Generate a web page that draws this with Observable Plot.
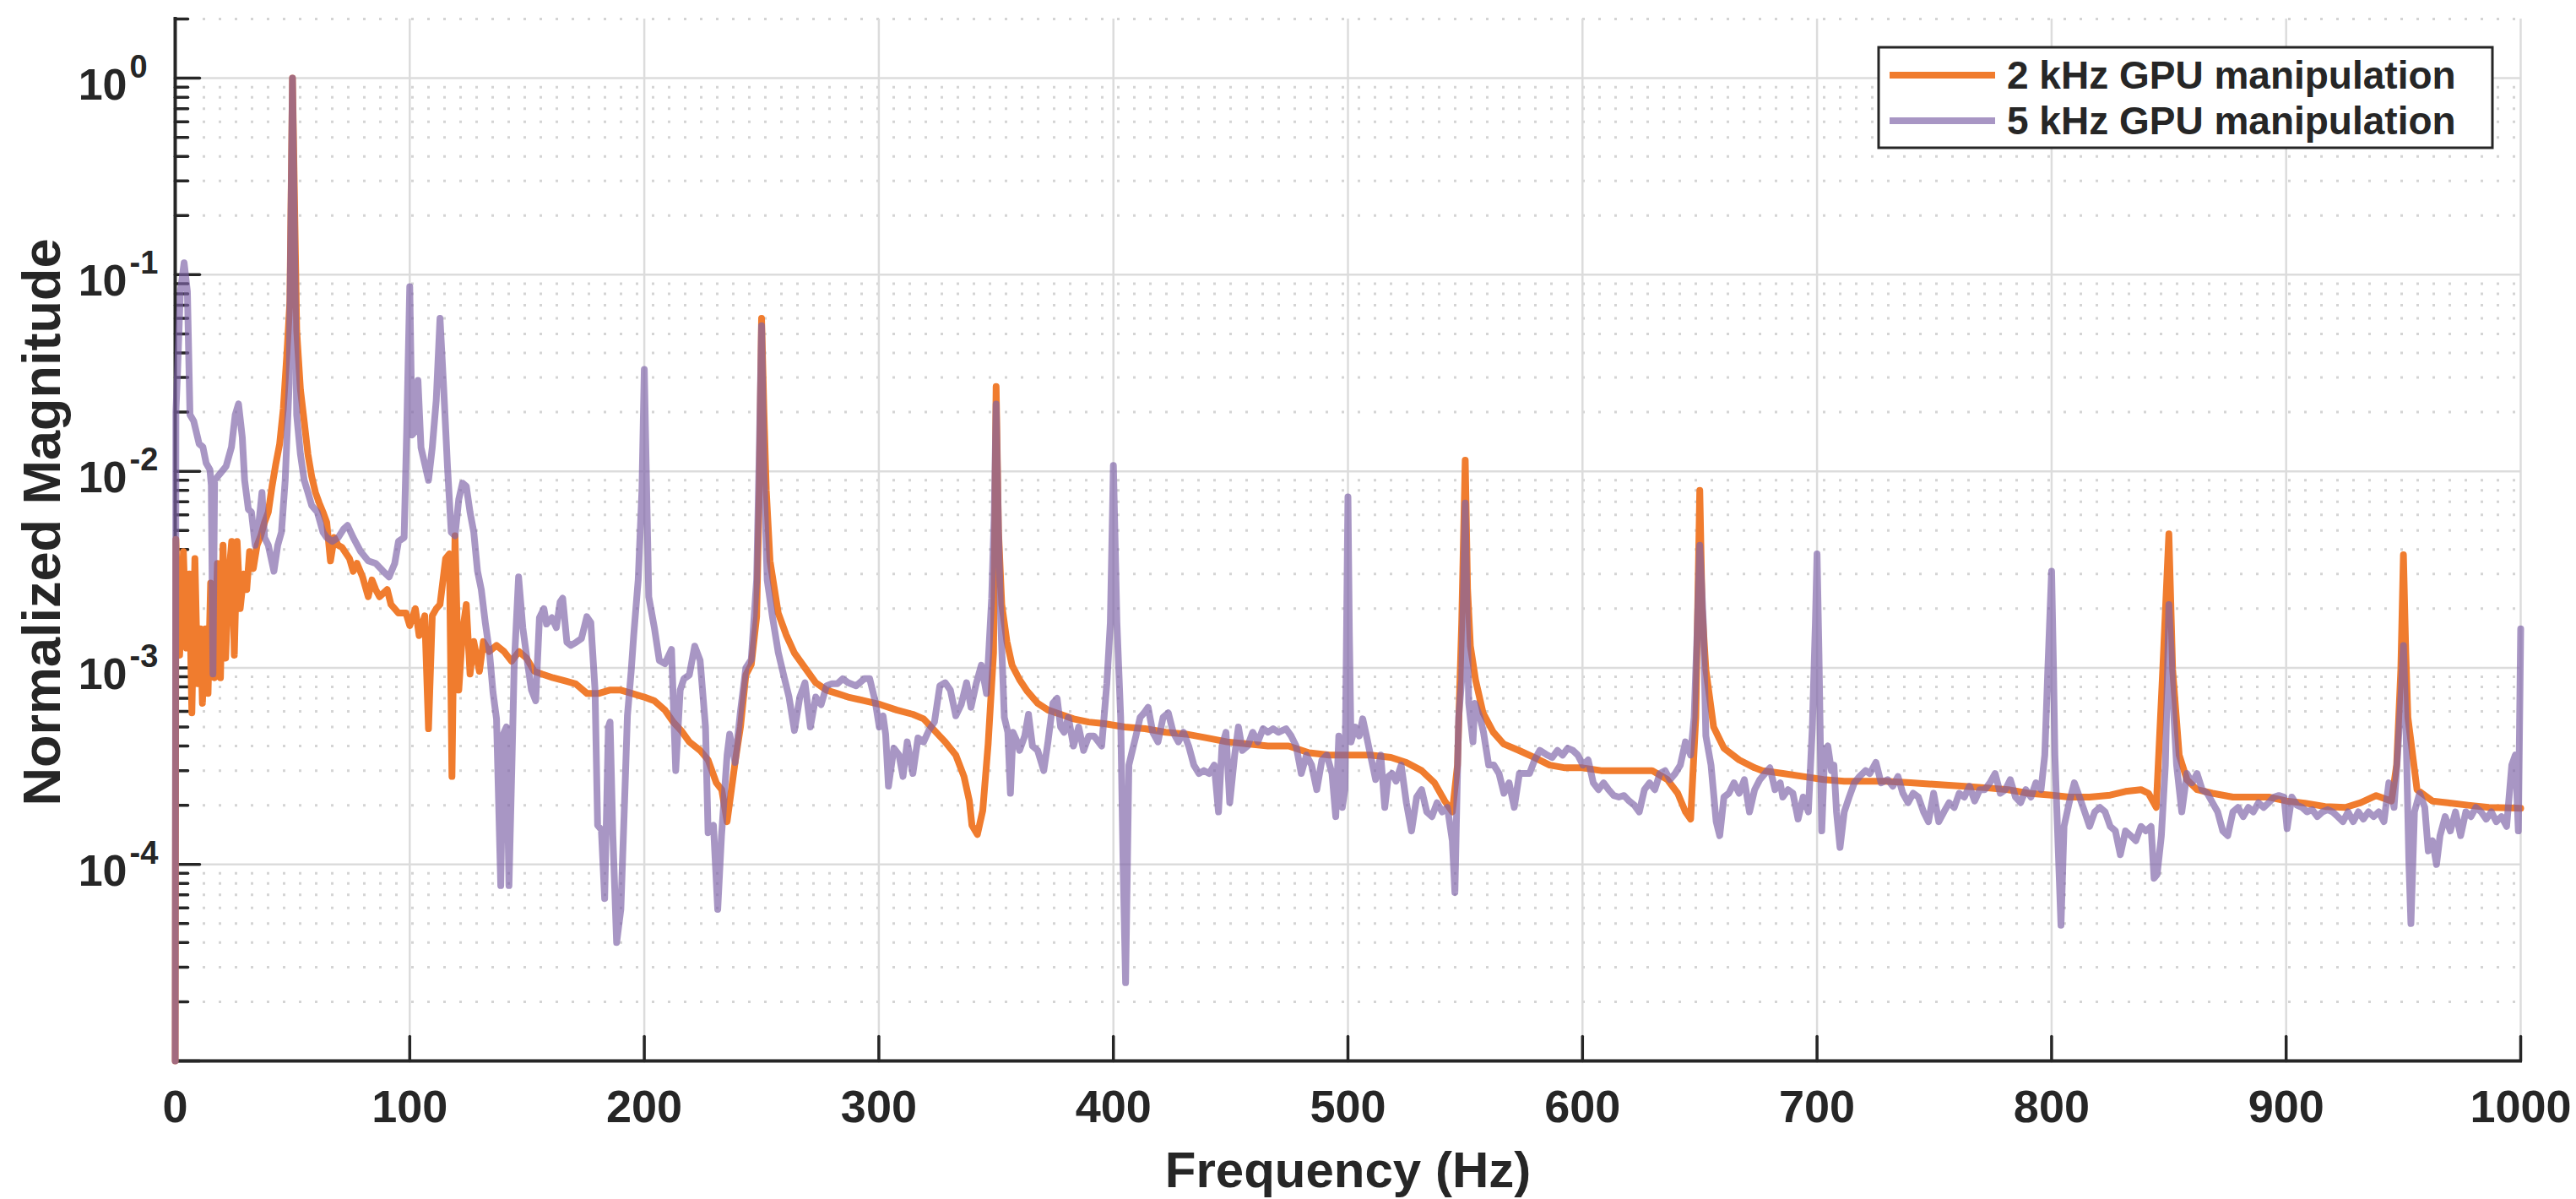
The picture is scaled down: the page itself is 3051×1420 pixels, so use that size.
<!DOCTYPE html>
<html>
<head>
<meta charset="utf-8">
<script src="https://cdn.jsdelivr.net/npm/d3@7"></script>
<script src="https://cdn.jsdelivr.net/npm/@observablehq/plot@0.6"></script>
<style>
html, body { margin: 0; padding: 0; background: #ffffff; }
#chart { width: 3051px; height: 1420px; }
</style>
</head>
<body>
<div id="chart"></div>
<script>
// ---------------- data ----------------
const seriesNames = ["2 kHz GPU manipulation", "5 kHz GPU manipulation"];

const freq2k = [
0,0.3,1.9,3.5,4.8,6.0,7.1,8.4,9.6,10.8,
11.6,12.9,14.0,15.1,16.7,18.0,19.3,20.4,21.5,22.8,
24.1,25.2,26.4,27.7,29.3,30.5,31.7,33.3,34.9,36.5,
38.1,39.7,41.3,42.9,44.5,46.1,47.7,48.9,50.0,51.8,
53.4,55.0,56.6,58.2,59.8,61.4,63.0,64.6,66.2,67.8,
69.5,71.1,74.3,75.9,77.5,79.9,82.3,83.9,85.5,87.1,
90.4,92.0,95.2,98.4,100.0,102.4,104.0,106.4,108.0,109.6,
111.3,112.9,115.3,116.9,118.0,119.3,120.9,122.5,124.1,125.7,
127.3,129.7,131.4,133.8,137.0,140.2,143.4,146.6,149.8,153.1,
156.3,161.1,165.9,170.7,175.6,180.4,185.2,190.0,194.9,200.0,
204.3,208.8,212.3,215.7,219.2,223.8,227.2,230.7,233.0,235.3,
238.7,241.0,243.3,245.6,247.9,249.0,250.0,251.0,252.0,253.6,
257.1,260.5,264.0,268.5,273.1,277.7,282.3,286.9,293.8,300.7,
307.6,314.5,319.1,323.7,328.3,332.8,336.3,338.6,339.7,342.0,
344.3,346.6,348.9,350.0,351.0,352.4,354.6,356.8,360.0,363.3,
367.7,372.1,377.5,383.0,389.5,396.1,404.8,413.5,422.3,431.0,
439.7,448.5,457.2,465.9,474.7,483.4,492.1,500.9,509.6,518.3,
524.9,531.4,536.9,541.3,544.5,546.7,548.5,550.0,551.0,552.2,
554.4,557.6,562.0,566.4,572.9,579.5,586.0,592.6,600.0,607.9,
614.4,621.0,629.7,636.2,640.6,643.9,646.1,648.3,650.0,651.0,
652.6,655.9,660.3,666.8,673.4,676.7,685.4,694.1,702.8,711.6,
720.3,729.0,739.9,750.8,761.7,772.6,781.4,790.1,800.1,807.5,
816.2,825.0,831.5,838.1,841.3,844.6,847.4,850.0,851.6,854.4,
857.7,862.0,868.6,877.3,883.9,892.6,900.2,907.9,916.6,925.3,
931.8,938.4,944.9,947.1,948.9,950.0,951.0,951.9,955.8,962.4,
968.9,977.6,986.4,995.1,1000.0
];
const mag2k = [
1e-5,4.5e-3,1.16e-3,3.9e-3,1.26e-3,3.0e-3,5.9e-4,3.6e-3,8.3e-4,1.58e-3,
6.6e-4,1.58e-3,7.4e-4,2.7e-3,8.9e-4,3.4e-3,8.9e-4,4.2e-3,1.12e-3,2.9e-3,
4.4e-3,1.16e-3,4.4e-3,2.0e-3,3.0e-3,2.5e-3,3.9e-3,3.2e-3,4.2e-3,4.7e-3,
5.5e-3,6.2e-3,8.4e-3,0.0109,0.0137,0.0208,0.041,0.073,1.0,0.052,
0.026,0.0179,0.0122,9.4e-3,7.8e-3,6.9e-3,6.2e-3,5.5e-3,3.5e-3,4.6e-3,
4.2e-3,4.1e-3,3.6e-3,3.1e-3,3.4e-3,2.9e-3,2.3e-3,2.8e-3,2.5e-3,2.3e-3,
2.5e-3,2.1e-3,1.9e-3,1.9e-3,1.64e-3,2.0e-3,1.46e-3,1.84e-3,4.9e-4,1.84e-3,
2.0e-3,2.1e-3,3.6e-3,3.8e-3,2.8e-4,4.7e-3,7.7e-4,1.52e-3,2.1e-3,9.3e-4,
1.36e-3,9.6e-4,1.36e-3,1.21e-3,1.30e-3,1.21e-3,1.08e-3,1.21e-3,1.12e-3,9.6e-4,
9.3e-4,8.9e-4,8.6e-4,8.3e-4,7.4e-4,7.4e-4,7.7e-4,7.7e-4,7.4e-4,7.1e-4,
6.8e-4,6.1e-4,5.3e-4,4.8e-4,4.2e-4,3.8e-4,3.4e-4,2.6e-4,2.4e-4,1.65e-4,
3.3e-4,5.0e-4,9.2e-4,1.04e-3,1.82e-3,8e-3,0.06,0.02,8e-3,3.5e-3,
1.9e-3,1.47e-3,1.19e-3,1.0e-3,8.4e-4,7.7e-4,7.4e-4,7.1e-4,6.8e-4,6.5e-4,
6.1e-4,5.8e-4,5.5e-4,4.8e-4,4.2e-4,3.6e-4,2.8e-4,2.1e-4,1.58e-4,1.42e-4,
1.88e-4,4.1e-4,1.19e-3,0.027,5e-3,2.1e-3,1.36e-3,1.03e-3,8.7e-4,7.6e-4,
6.6e-4,6.1e-4,5.8e-4,5.5e-4,5.3e-4,5.2e-4,5.0e-4,4.9e-4,4.7e-4,4.6e-4,
4.4e-4,4.2e-4,4.1e-4,4.0e-4,4.0e-4,3.7e-4,3.6e-4,3.6e-4,3.6e-4,3.5e-4,
3.3e-4,3.0e-4,2.6e-4,2.1e-4,1.85e-4,3.2e-4,1.7e-3,0.0114,2.5e-3,1.29e-3,
8.7e-4,5.9e-4,4.7e-4,4.1e-4,3.8e-4,3.5e-4,3.2e-4,3.1e-4,3.1e-4,3.0e-4,
3.0e-4,3.0e-4,3.0e-4,2.7e-4,2.3e-4,1.85e-4,1.7e-4,5.6e-4,8.0e-3,2.0e-3,
9.8e-4,5.0e-4,3.9e-4,3.4e-4,3.1e-4,3.0e-4,2.9e-4,2.8e-4,2.7e-4,2.65e-4,
2.65e-4,2.65e-4,2.6e-4,2.55e-4,2.5e-4,2.45e-4,2.4e-4,2.3e-4,2.25e-4,2.2e-4,
2.2e-4,2.25e-4,2.35e-4,2.4e-4,2.3e-4,1.95e-4,9.8e-4,4.8e-3,9.8e-4,3.6e-4,
2.7e-4,2.4e-4,2.3e-4,2.2e-4,2.2e-4,2.2e-4,2.1e-4,2.05e-4,1.97e-4,1.95e-4,
2.06e-4,2.24e-4,2.1e-4,3.2e-4,9.8e-4,3.76e-3,1.2e-3,5.6e-4,2.4e-4,2.1e-4,
2.06e-4,2.0e-4,1.95e-4,1.94e-4,1.93e-4
];

const freq5k = [
0,0.3,1.0,2.2,3.8,5.2,6.3,7.9,10.2,11.8,
13.2,14.8,15.4,16.1,16.8,19.4,21.7,24.0,25.6,27.0,
28.6,29.6,31.2,32.5,34.1,35.7,37.0,38.1,39.7,42.1,
43.7,45.3,46.9,48.6,50.0,51.8,53.4,55.0,56.6,58.2,
60.6,63.0,64.6,67.0,69.5,71.9,73.5,75.9,79.1,82.3,
85.5,88.7,91.2,93.6,95.2,97.6,98.7,100.0,101.0,102.4,
103.5,104.8,106.4,108.0,109.6,111.3,112.9,114.5,116.1,117.7,
119.3,120.9,122.5,124.1,125.7,127.3,128.9,130.5,132.2,134.0,
135.5,137.0,138.8,139.9,141.2,142.3,143.6,144.5,146.4,148.2,
150.3,151.9,153.7,155.3,157.2,158.3,160.6,162.5,164.1,165.2,
167.0,168.7,171.0,173.2,175.5,177.2,179.0,180.1,181.7,183.1,
184.7,185.4,186.6,188.2,190.0,191.6,192.8,194.4,195.5,197.4,
199.0,200.0,201.0,201.9,204.3,206.4,208.8,211.6,213.4,215.3,
216.9,219.2,221.5,223.8,226.1,227.2,229.5,231.3,232.9,235.3,
236.4,238.7,241.0,243.3,245.6,247.9,249.0,250.0,251.0,252.4,
254.7,257.1,259.4,261.7,264.0,266.3,268.5,270.8,273.1,275.4,
277.7,280.0,282.3,284.6,286.9,290.3,293.8,296.1,298.4,300.2,
301.8,302.9,304.1,306.4,308.6,310.3,312.1,314.5,316.7,319.1,
321.3,323.7,326.0,328.3,330.5,332.8,335.1,337.4,339.3,341.5,
343.7,345.9,348.1,349.2,350.0,351.0,352.0,353.5,355.0,356.1,
357.2,359.0,360.0,362.2,363.8,365.5,367.7,370.3,372.1,374.2,
376.0,377.5,379.0,380.8,383.0,385.2,387.3,389.5,391.7,395.0,
397.2,398.7,400.0,401.5,403.1,404.1,405.2,406.6,408.1,409.6,
411.4,413.1,414.8,416.8,419.0,421.2,423.4,425.5,427.7,429.9,
432.1,434.3,436.5,438.6,440.8,443.0,444.8,446.3,448.0,449.6,
451.7,453.3,455.0,457.2,459.4,461.6,463.8,465.9,468.1,470.3,
473.6,475.8,477.9,480.1,482.3,484.5,486.7,488.9,491.0,493.2,
494.8,496.1,497.6,498.7,499.4,500.0,500.6,501.3,503.1,504.8,
506.3,507.9,509.6,511.8,514.0,515.7,517.2,518.8,520.5,522.7,
524.9,527.1,529.3,531.4,533.6,535.8,538.0,540.2,542.4,544.5,
545.6,547.2,548.5,549.3,550.0,550.8,551.5,553.3,554.1,556.3,
557.8,560.0,562.2,564.4,566.5,568.7,570.9,573.1,575.2,577.4,
579.6,581.8,584.9,587.1,589.3,591.5,593.7,595.9,598.0,600.2,
602.4,604.6,606.8,609.0,611.1,613.3,615.5,617.7,619.9,622.1,
624.2,626.4,628.6,630.8,633.0,635.2,637.3,639.5,641.7,643.9,
646.1,647.6,648.9,650.0,651.5,652.6,654.8,657.0,658.5,660.3,
662.4,664.6,666.8,669.0,671.2,673.4,675.6,677.8,679.9,682.1,
684.3,685.4,687.6,689.7,691.9,694.1,696.3,698.0,699.3,700.0,
700.8,702.0,703.3,704.6,706.1,707.2,708.3,709.8,711.6,713.7,
715.9,718.1,720.7,722.5,725.1,727.3,730.1,732.3,734.5,736.6,
738.8,741.0,743.2,745.4,747.5,749.7,751.9,754.1,756.3,758.5,
760.6,762.8,765.0,767.2,769.4,771.5,773.7,775.9,778.1,780.3,
782.4,784.6,786.8,789.0,791.2,793.3,795.5,797.1,798.4,800.0,
800.8,801.4,802.7,804.0,805.3,807.5,809.7,811.9,814.1,816.2,
818.4,820.6,822.8,825.0,827.2,829.3,831.5,833.7,835.9,838.1,
840.2,842.4,843.7,845.0,846.8,848.5,849.3,850.0,851.0,851.6,
853.3,855.5,857.7,859.9,862.0,864.2,866.4,868.6,870.8,873.0,
875.1,877.3,879.5,881.7,883.9,886.0,888.2,890.4,892.6,894.8,
896.9,899.1,900.4,902.4,904.6,906.8,908.9,911.1,913.3,915.5,
917.7,919.8,922.0,924.2,926.4,928.6,930.8,932.9,935.1,937.3,
939.5,941.7,943.8,946.0,947.5,949.2,950.0,951.0,952.3,953.2,
954.7,956.9,959.1,960.6,962.4,964.1,965.6,967.8,970.0,972.2,
974.4,976.6,978.8,980.9,983.1,985.3,987.5,989.6,991.8,994.0,
996.2,997.7,999.0,1000.0
];
const mag5k = [
1e-5,0.02,0.032,0.082,0.115,0.082,0.0194,0.018,0.0138,0.0133,
0.011,0.0102,0.0085,9.3e-4,9.0e-3,9.8e-3,0.0106,0.0133,0.0194,0.022,
0.0149,9.0e-3,6.4e-3,6.2e-3,4.2e-3,5.5e-3,7.8e-3,4.6e-3,4.2e-3,3.1e-3,
4.2e-3,4.9e-3,9.0e-3,0.028,1.0,0.0193,0.0122,9.0e-3,7.8e-3,6.7e-3,
6.2e-3,4.9e-3,4.6e-3,4.4e-3,4.6e-3,5.1e-3,5.3e-3,4.6e-3,3.9e-3,3.5e-3,
3.4e-3,3.1e-3,2.9e-3,3.4e-3,4.4e-3,4.6e-3,0.016,0.087,0.0153,0.016,
0.029,0.0132,0.0109,9.0e-3,0.0132,0.023,0.060,0.026,0.0105,4.9e-3,
4.7e-3,7.2e-3,8.7e-3,8.4e-3,6.2e-3,4.9e-3,3.1e-3,2.5e-3,1.7e-3,1.2e-3,
7.5e-4,5.5e-4,7.8e-5,4.6e-4,5.0e-4,7.8e-5,3.4e-4,1.0e-3,2.9e-3,1.6e-3,
1.04e-3,7.7e-4,6.8e-4,1.8e-3,2.0e-3,1.67e-3,1.8e-3,1.6e-3,2.16e-3,2.26e-3,
1.35e-3,1.3e-3,1.35e-3,1.41e-3,1.82e-3,1.7e-3,7.7e-4,1.58e-4,1.5e-4,6.7e-5,
5.0e-4,5.3e-4,1.4e-4,4.0e-5,5.9e-5,2.1e-4,5.7e-4,9.6e-4,1.47e-3,2.8e-3,
8.0e-3,0.033,8.0e-3,2.3e-3,1.6e-3,1.09e-3,1.05e-3,1.24e-3,3.0e-4,7.7e-4,
8.8e-4,9.2e-4,1.29e-3,1.09e-3,5.0e-4,1.45e-4,1.58e-4,5.9e-5,1.39e-4,3.6e-4,
4.6e-4,3.3e-4,6.0e-4,1.0e-3,1.1e-3,2.8e-3,0.012,0.055,0.01,2.8e-3,
1.8e-3,1.2e-3,9.2e-4,7.1e-4,4.8e-4,7.1e-4,8.4e-4,5.0e-4,7.1e-4,6.5e-4,
8.1e-4,8.3e-4,8.3e-4,8.8e-4,8.4e-4,8.1e-4,8.8e-4,8.8e-4,6.8e-4,5.0e-4,
5.7e-4,4.6e-4,2.5e-4,3.9e-4,3.6e-4,2.8e-4,4.2e-4,2.9e-4,4.4e-4,4.2e-4,
4.8e-4,5.3e-4,8.1e-4,8.4e-4,7.7e-4,5.7e-4,6.5e-4,8.4e-4,6.3e-4,8.3e-4,
1.03e-3,7.4e-4,2.25e-3,6.0e-3,0.022,5.0e-3,1.7e-3,5.6e-4,4.7e-4,2.3e-4,
4.7e-4,4.2e-4,3.8e-4,4.5e-4,5.8e-4,4.0e-4,3.8e-4,3.0e-4,4.2e-4,6.6e-4,
7.0e-4,5.0e-4,4.7e-4,5.6e-4,4.0e-4,5.0e-4,3.8e-4,4.5e-4,4.5e-4,4.0e-4,
8.3e-4,1.7e-3,0.0107,1.7e-3,5.6e-4,1.06e-4,2.5e-5,3.2e-4,3.8e-4,4.5e-4,
5.6e-4,5.9e-4,6.3e-4,4.7e-4,4.2e-4,5.6e-4,5.9e-4,4.7e-4,4.2e-4,4.7e-4,
4.0e-4,3.2e-4,2.9e-4,3.0e-4,2.9e-4,3.2e-4,1.85e-4,4.0e-4,4.7e-4,2.06e-4,
3.6e-4,5.0e-4,3.8e-4,4.0e-4,4.7e-4,4.2e-4,4.9e-4,4.7e-4,4.9e-4,4.7e-4,
4.9e-4,4.5e-4,4.0e-4,2.9e-4,3.6e-4,3.2e-4,2.4e-4,3.4e-4,3.6e-4,2.9e-4,
1.75e-4,4.5e-4,1.95e-4,2.4e-4,1.5e-3,7.4e-3,1.5e-3,4.2e-4,5.0e-4,4.5e-4,
5.5e-4,4.5e-4,3.6e-4,2.7e-4,3.6e-4,1.95e-4,2.8e-4,2.9e-4,2.65e-4,3.2e-4,
2.06e-4,1.48e-4,2.2e-4,2.4e-4,1.85e-4,1.75e-4,2.06e-4,1.85e-4,1.95e-4,1.32e-4,
7.2e-5,5.6e-4,8.7e-4,2.5e-3,6.9e-3,1.8e-3,6.6e-4,4.2e-4,6.6e-4,5.6e-4,
4.7e-4,3.2e-4,3.2e-4,2.9e-4,2.3e-4,2.6e-4,1.95e-4,2.9e-4,2.9e-4,2.9e-4,
3.4e-4,3.8e-4,3.6e-4,3.5e-4,3.8e-4,3.6e-4,3.9e-4,3.8e-4,3.6e-4,3.2e-4,
3.4e-4,2.6e-4,2.4e-4,2.6e-4,2.4e-4,2.24e-4,2.2e-4,2.24e-4,2.1e-4,2.0e-4,
1.85e-4,2.4e-4,2.6e-4,2.4e-4,2.9e-4,3.0e-4,2.7e-4,2.9e-4,3.2e-4,4.2e-4,
3.6e-4,5.6e-4,1.53e-3,4.2e-3,1.7e-3,4.5e-4,3.2e-4,1.65e-4,1.4e-4,2.2e-4,
2.3e-4,2.6e-4,2.3e-4,2.7e-4,1.85e-4,2.4e-4,2.7e-4,2.9e-4,3.1e-4,2.4e-4,
2.6e-4,2.2e-4,2.4e-4,2.3e-4,1.7e-4,2.2e-4,1.85e-4,5.0e-4,1.7e-3,3.8e-3,
1.2e-3,1.48e-4,3.8e-4,4.0e-4,3.0e-4,3.2e-4,1.85e-4,1.22e-4,1.85e-4,2.2e-4,
2.6e-4,2.8e-4,3.0e-4,2.9e-4,3.3e-4,2.6e-4,2.7e-4,2.5e-4,2.8e-4,2.3e-4,
2.06e-4,2.3e-4,2.2e-4,1.85e-4,1.65e-4,2.3e-4,1.65e-4,1.85e-4,2.06e-4,1.95e-4,
2.3e-4,2.2e-4,2.5e-4,2.1e-4,2.4e-4,2.4e-4,2.6e-4,2.9e-4,2.3e-4,2.4e-4,
2.7e-4,2.2e-4,2.06e-4,2.4e-4,2.2e-4,2.6e-4,2.4e-4,3.6e-4,9.8e-4,3.1e-3,
1.0e-3,3.6e-4,1.32e-4,4.9e-5,1.56e-4,2.06e-4,2.6e-4,2.2e-4,1.85e-4,1.56e-4,
1.85e-4,1.95e-4,1.85e-4,1.56e-4,1.48e-4,1.12e-4,1.48e-4,1.4e-4,1.32e-4,1.56e-4,
1.48e-4,1.56e-4,8.5e-5,8.9e-5,1.4e-4,3.2e-4,8.0e-4,2.1e-3,1.2e-3,7.4e-4,
3.2e-4,1.85e-4,2.9e-4,2.6e-4,2.9e-4,2.4e-4,2.3e-4,2.06e-4,1.85e-4,1.48e-4,
1.4e-4,1.85e-4,1.95e-4,1.75e-4,1.95e-4,1.85e-4,2.06e-4,1.95e-4,2.06e-4,2.2e-4,
2.24e-4,2.2e-4,1.52e-4,2.2e-4,2.0e-4,1.95e-4,1.85e-4,1.9e-4,1.75e-4,1.85e-4,
1.9e-4,1.85e-4,1.75e-4,1.65e-4,1.85e-4,1.65e-4,1.85e-4,1.7e-4,1.85e-4,1.75e-4,
1.85e-4,1.65e-4,2.6e-4,1.95e-4,3.6e-4,8.0e-4,1.3e-3,5.6e-4,1.06e-4,5.0e-5,
1.85e-4,2.3e-4,1.95e-4,1.17e-4,1.32e-4,1.0e-4,1.4e-4,1.75e-4,1.48e-4,1.85e-4,
1.4e-4,1.85e-4,1.75e-4,1.95e-4,1.85e-4,1.7e-4,1.85e-4,1.65e-4,1.75e-4,1.56e-4,
3.2e-4,3.6e-4,1.48e-4,1.58e-3
];

// axis ticks
const xTicks = [0, 100, 200, 300, 400, 500, 600, 700, 800, 900, 1000];
const yDecades = [1e-4, 1e-3, 1e-2, 1e-1, 1];
const yExponents = ["-4", "-3", "-2", "-1", "0"];
const yDomain = [1e-5, 2];

// ---------------- build ----------------
const ink = "#262626";
const orange = "#F07C2E";
const purple = "#7E62A7";
const purpleOpacity = 0.67;

const data2k = freq2k.map((f, i) => ({f, m: mag2k[i]}));
const data5k = freq5k.map((f, i) => ({f, m: mag5k[i]}));

const minorY = [];
for (let e = -5; e <= 0; e++) {
  for (let k = 2; k <= 9; k++) {
    const v = k * Math.pow(10, e);
    if (v <= yDomain[1] * 1.0001) minorY.push(v);
  }
}
const majorTickY = [1e-5, ...yDecades];

const tickShape = {draw(context, l) { context.moveTo(0, 0); context.lineTo(0, -l); }};

const chart = Plot.plot({
  width: 3051,
  height: 1420,
  marginLeft: 207,
  marginRight: 66,
  marginTop: 22,
  marginBottom: 164,
  style: {
    fontFamily: "'Liberation Sans', Arial, Helvetica, sans-serif",
    fontWeight: "bold",
    background: "#ffffff",
    color: ink
  },
  x: {domain: [0, 1000]},
  y: {type: "log", domain: yDomain, axis: null},
  marks: [
    // grid
    Plot.ruleY(minorY, {stroke: "#d4d4d4", strokeWidth: 3, strokeDasharray: "3,16", strokeDashoffset: 5}),
    Plot.ruleX(xTicks.slice(1), {stroke: "#dcdcdc", strokeWidth: 2.5}),
    Plot.ruleY(yDecades, {stroke: "#dcdcdc", strokeWidth: 2.5}),
    // axis lines
    Plot.ruleX([0], {stroke: ink, strokeWidth: 4, strokeLinecap: "square"}),
    Plot.ruleY([yDomain[0]], {stroke: ink, strokeWidth: 4, strokeLinecap: "square"}),
    // inward ticks
    Plot.vector(majorTickY, {y: d => d, frameAnchor: "left", rotate: 90, length: 29, anchor: "start", shape: tickShape, stroke: ink, strokeWidth: 3.5}),
    Plot.vector(minorY, {y: d => d, frameAnchor: "left", rotate: 90, length: 15, anchor: "start", shape: tickShape, stroke: ink, strokeWidth: 3.5}),
    Plot.vector(xTicks, {x: d => d, frameAnchor: "bottom", rotate: 0, length: 29, anchor: "start", shape: tickShape, stroke: ink, strokeWidth: 3.5}),
    // x tick labels
    Plot.axisX({ticks: xTicks, tickSize: 0, tickPadding: 34, fontSize: 54, label: null, tickFormat: d => `${d}`}),
    // y tick labels 10^n
    Plot.text(yDecades, {y: d => d, frameAnchor: "left", text: () => "10", textAnchor: "end", lineAnchor: "bottom", dx: -57, dy: 25, fontSize: 52}),
    Plot.text(yDecades, {y: d => d, frameAnchor: "left", text: (d, i) => yExponents[i], textAnchor: "start", lineAnchor: "bottom", dx: -54, dy: -1, fontSize: 38}),
    // axis titles
    Plot.text(["Frequency (Hz)"], {frameAnchor: "bottom", textAnchor: "middle", lineAnchor: "bottom", dy: 149, fontSize: 60}),
    Plot.text(["Normalized Magnitude"], {frameAnchor: "left", textAnchor: "middle", lineAnchor: "middle", rotate: -90, dx: -157, dy: -21, fontSize: 63}),
    // data
    Plot.line(data2k, {x: "f", y: "m", stroke: orange, strokeWidth: 8, strokeLinejoin: "round", strokeLinecap: "round"}),
    Plot.line(data5k, {x: "f", y: "m", stroke: purple, strokeOpacity: purpleOpacity, strokeWidth: 8, strokeLinejoin: "round", strokeLinecap: "round"})
  ]
});

document.getElementById("chart").appendChild(chart);

// legend (inside the plot area, top right)
const svg = d3.select(chart);
const lg = svg.append("g").attr("font-family", "'Liberation Sans', Arial, sans-serif").attr("font-weight", "bold");
lg.append("rect").attr("x", 2225).attr("y", 56).attr("width", 727).attr("height", 119)
  .attr("fill", "#ffffff").attr("stroke", ink).attr("stroke-width", 3);
const legendRows = [
  {name: seriesNames[0], color: orange, opacity: 1, y: 89},
  {name: seriesNames[1], color: purple, opacity: purpleOpacity, y: 143}
];
legendRows.forEach(r => {
  lg.append("line").attr("x1", 2238).attr("x2", 2363).attr("y1", r.y).attr("y2", r.y)
    .attr("stroke", r.color).attr("stroke-opacity", r.opacity).attr("stroke-width", 8);
  lg.append("text").attr("x", 2377).attr("y", r.y + 16).attr("font-size", 46).attr("fill", ink)
    .attr("text-anchor", "start").text(r.name);
});
</script>
</body>
</html>
